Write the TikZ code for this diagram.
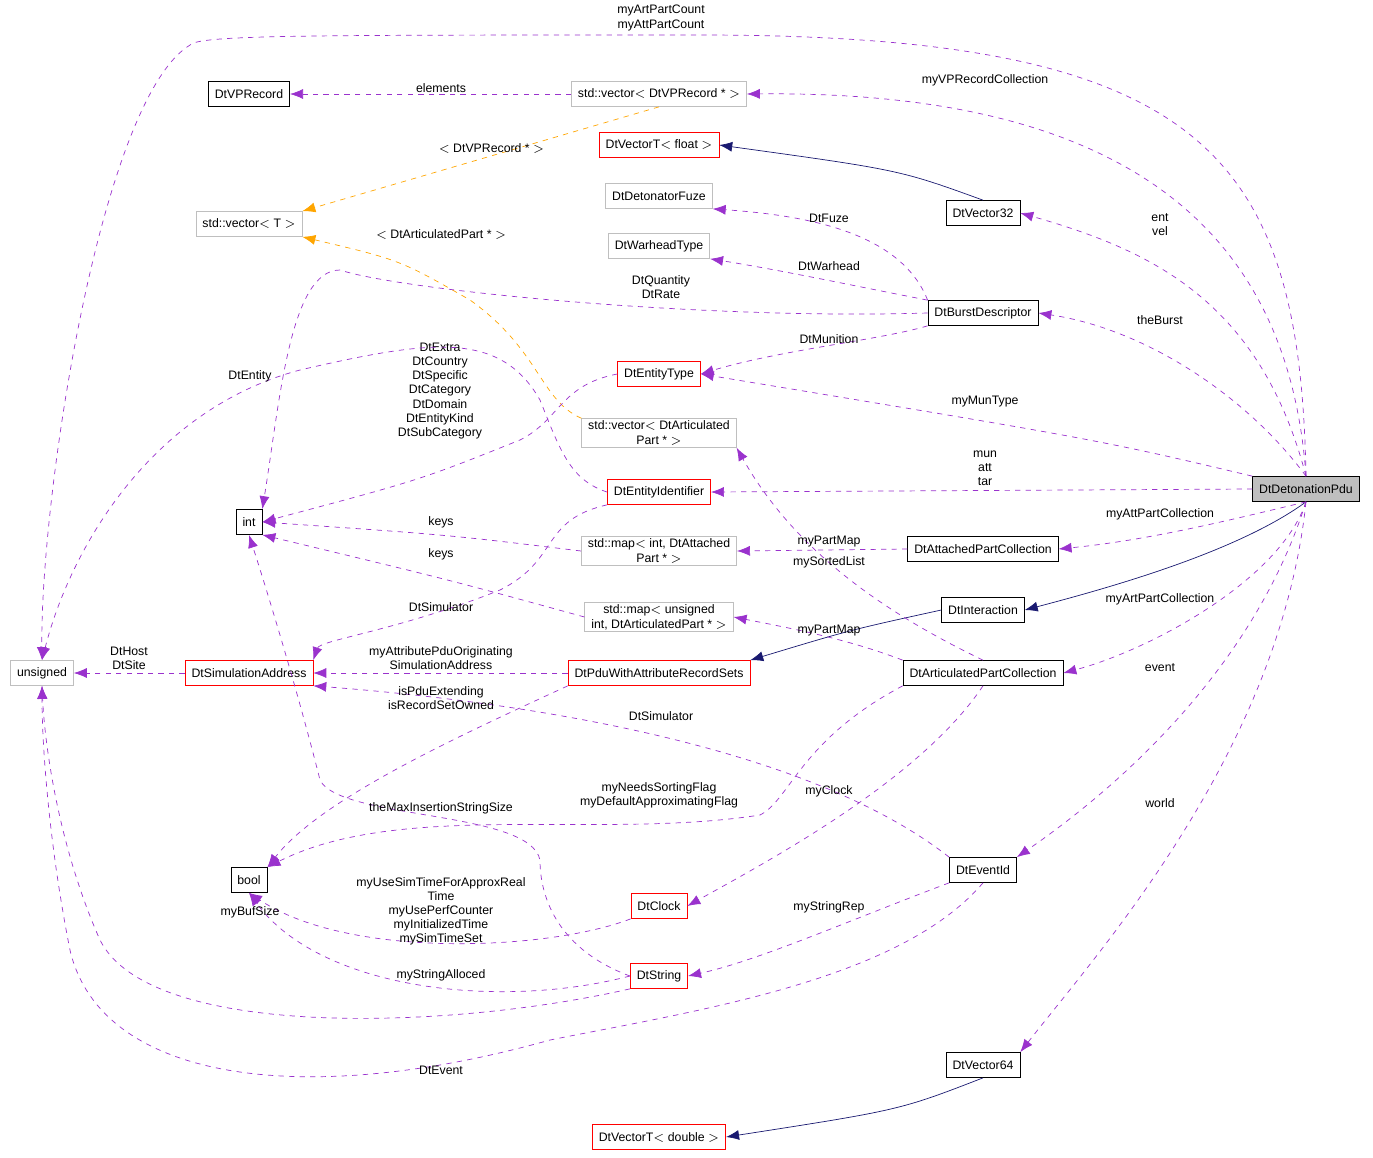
\documentclass[tikz,border=0pt]{standalone}
\usepackage{fontspec}
\setmainfont{Liberation Sans}
\usetikzlibrary{arrows.meta}
\definecolor{dxPurple}{RGB}{154,50,205}
\definecolor{dxOrange}{RGB}{255,165,0}
\definecolor{dxNavy}{RGB}{25,25,112}
\definecolor{dxGray}{RGB}{191,191,191}
\tikzset{
    base/.style={font=\fontsize{7}{8.5}\selectfont, align=center, inner xsep=0.13cm, inner ysep=0.04cm, minimum height=0.5cm},
    cls/.style={base, rectangle, draw=black, fill=white},
    ext/.style={base, rectangle, draw=dxGray, fill=white},
    part/.style={base, rectangle, draw=red, fill=white},
    focus/.style={base, rectangle, draw=black, fill=dxGray},
    use/.style={-{Latex[length=2.6mm,width=2mm]}, dashed, color=dxPurple},
    tmpl/.style={-{Latex[length=2.6mm,width=2mm]}, dashed, color=dxOrange},
    inherit/.style={-{Latex[length=2.6mm,width=2mm]}, color=dxNavy},
    lbl/.style={font=\fontsize{7}{8}\selectfont, align=center, text=black, inner sep=0pt}
}
\begin{document}
\begin{tikzpicture}[x=0.02cm, y=-0.02cm]
  \useasboundingbox (0,0) rectangle (1373,1157);
  % classes
  \node[focus] (pdu) at (1306,489) {DtDetonationPdu};
  \node[ext] (unsig) at (42,673) {unsigned};
  \node[cls] (int) at (249,522) {int};
  \node[cls] (bool) at (249,880) {bool};
  \node[cls] (vprec) at (249,94) {DtVPRecord};
  \node[ext] (vecvp) at (659,94) {std::vector$<$ DtVPRecord * $>$};
  \node[part] (vecf) at (659,145) {DtVectorT$<$ float $>$};
  \node[ext] (fuze) at (659,196) {DtDetonatorFuze};
  \node[ext] (warh) at (659,246) {DtWarheadType};
  \node[ext] (vect) at (249,224) {std::vector$<$ T $>$};
  \node[cls] (v32) at (983,213) {DtVector32};
  \node[cls] (burst) at (983,313) {DtBurstDescriptor};
  \node[part] (etype) at (659,374) {DtEntityType};
  \node[ext] (vecart) at (659,433) {std::vector$<$ DtArticulated\\Part * $>$};
  \node[part] (eid) at (659,492) {DtEntityIdentifier};
  \node[ext] (mapatt) at (659,551) {std::map$<$ int, DtAttached\\Part * $>$};
  \node[cls] (attcol) at (983,549) {DtAttachedPartCollection};
  \node[cls] (inter) at (983,610) {DtInteraction};
  \node[ext] (mapart) at (659,617) {std::map$<$ unsigned\\int, DtArticulatedPart * $>$};
  \node[part] (simaddr) at (249,673) {DtSimulationAddress};
  \node[part] (pduattr) at (659,673) {DtPduWithAttributeRecordSets};
  \node[cls] (artcol) at (983,673) {DtArticulatedPartCollection};
  \node[cls] (evid) at (983,870) {DtEventId};
  \node[part] (clock) at (659,906) {DtClock};
  \node[part] (str) at (659,976) {DtString};
  \node[cls] (v64) at (983,1065) {DtVector64};
  \node[part] (vecd) at (659,1137) {DtVectorT$<$ double $>$};

  % inheritance
  \draw[inherit] (v32.north) .. controls (900,170) .. (vecf.east);
  \draw[inherit] (pdu.south) .. controls (1240,550) and (1120,585) .. (inter.east);
  \draw[inherit] (inter.west) .. controls (850,630) .. (pduattr.north east);
  \draw[inherit] (v64.south) .. controls (900,1110) .. (vecd.east);

  % templates
  \draw[tmpl] (vecvp.south) -- node[lbl, pos=0.45, above, xshift=-4] {$<$ DtVPRecord * $>$} (vect.north east);
  \draw[tmpl] (vecart.north west) .. controls (540,400) and (540,350) .. (470,300) .. controls (400,260) .. (vect.south east);
  \path (441,235) node[lbl] {$<$ DtArticulatedPart * $>$};

  % members of DtDetonationPdu
  \draw[use] (pdu.north) .. controls (1300,150) and (1200,35) .. (700,35) .. controls (300,35) and (200,35) .. (190,45) .. controls (100,100) and (40,500) .. (unsig.north)
    node[lbl, at={(661,18)}] {myArtPartCount\\myAttPartCount};
  \draw[use] (pdu.north) .. controls (1290,250) and (1150,90) .. (vecvp.east)
    node[lbl, at={(985,80)}] {myVPRecordCollection};
  \draw[use] (pdu.north) .. controls (1260,300) and (1150,250) .. (v32.east)
    node[lbl, at={(1160,225)}] {ent\\vel};
  \draw[use] (pdu.north) .. controls (1250,400) and (1150,330) .. (burst.east)
    node[lbl, at={(1160,320)}] {theBurst};
  \draw[use] (pdu.north west) .. controls (1100,440) .. (etype.east)
    node[lbl, at={(985,402)}] {myMunType};
  \draw[use] (pdu.west) -- (eid.east)
    node[lbl, at={(985,468)}] {mun\\att\\tar};
  \draw[use] (pdu.south) .. controls (1230,520) and (1150,540) .. (attcol.east)
    node[lbl, at={(1160,514)}] {myAttPartCollection};
  \draw[use] (pdu.south) .. controls (1280,580) and (1150,650) .. (artcol.east)
    node[lbl, at={(1160,599)}] {myArtPartCollection};
  \draw[use] (pdu.south) .. controls (1250,680) and (1100,800) .. (evid.north east)
    node[lbl, at={(1160,668)}] {event};
  \draw[use] (pdu.south) .. controls (1280,750) and (1100,950) .. (v64.north east)
    node[lbl, at={(1160,803)}] {world};

  % other members
  \draw[use] (vecvp.west) -- (vprec.east)
    node[lbl, at={(441,88)}] {elements};
  \draw[use] (burst.north west) .. controls (900,230) and (800,215) .. (fuze.south east)
    node[lbl, at={(829,218)}] {DtFuze};
  \draw[use] (burst.north west) .. controls (850,285) and (780,270) .. (warh.south east)
    node[lbl, at={(829,266)}] {DtWarhead};
  \draw[use] (burst.west) .. controls (700,320) and (400,290) .. (340,270) .. controls (290,270) and (280,400) .. (int.north east)
    node[lbl, at={(661,287)}] {DtQuantity\\DtRate};
  \draw[use] (burst.south west) .. controls (880,340) and (780,350) .. (etype.east)
    node[lbl, at={(829,339)}] {DtMunition};
  \draw[use] (etype.west) .. controls (560,385) and (560,420) .. (520,440) .. controls (420,480) .. (int.east)
    node[lbl, at={(440,391)}] {DtExtra\\DtCountry\\DtSpecific\\DtCategory\\DtDomain\\DtEntityKind\\DtSubCategory};
  \draw[use] (eid.west) .. controls (570,480) and (560,450) .. (540,400) .. controls (500,330) and (430,340) .. (300,370) .. controls (150,410) and (70,550) .. (unsig.north)
    node[lbl, at={(250,376)}] {DtEntity};
  \draw[use] (eid.south west) .. controls (540,520) and (560,560) .. (500,590) .. controls (400,630) and (320,640) .. (simaddr.north east)
    node[lbl, at={(441,607)}] {DtSimulator};
  \draw[use] (artcol.north) .. controls (900,620) and (800,560) .. (vecart.south east)
    node[lbl, at={(829,562)}] {mySortedList};
  \draw[use] (mapatt.west) .. controls (450,535) .. (int.east)
    node[lbl, at={(441,522)}] {keys};
  \draw[use] (mapart.west) .. controls (450,580) .. (int.south east)
    node[lbl, at={(441,554)}] {keys};
  \draw[use] (attcol.west) -- (mapatt.east)
    node[lbl, at={(829,542)}] {myPartMap};
  \draw[use] (artcol.north west) .. controls (850,640) and (800,630) .. (mapart.east)
    node[lbl, at={(829,631)}] {myPartMap};
  \draw[use] (simaddr.west) -- (unsig.east)
    node[lbl, at={(129,658)}] {DtHost\\DtSite};
  \draw[use] (pduattr.west) -- (simaddr.east)
    node[lbl, at={(441,658)}] {myAttributePduOriginating\\SimulationAddress};
  \draw[use] (evid.north west) .. controls (800,740) and (500,700) .. (simaddr.south east)
    node[lbl, at={(661,716)}] {DtSimulator};
  \draw[use] (pduattr.south west) .. controls (450,740) and (320,800) .. (bool.north east)
    node[lbl, at={(441,698)}] {isPduExtending\\isRecordSetOwned};
  \draw[use] (artcol.south west) .. controls (800,740) and (790,800) .. (760,815) .. controls (600,840) and (400,800) .. (bool.north east)
    node[lbl, at={(659,795)}] {myNeedsSortingFlag\\myDefaultApproximatingFlag};
  \draw[use] (artcol.south) .. controls (920,780) and (770,860) .. (clock.east)
    node[lbl, at={(829,791)}] {myClock};
  \draw[use] (str.west) .. controls (560,950) and (540,900) .. (540,860) .. controls (530,810) and (340,820) .. (320,780) .. controls (300,700) and (270,600) .. (int.south)
    node[lbl, at={(441,808)}] {theMaxInsertionStringSize};
  \draw[use] (clock.south west) .. controls (550,950) and (350,960) .. (bool.south)
    node[lbl, at={(441,911)}] {myUseSimTimeForApproxReal\\Time\\myUsePerfCounter\\myInitializedTime\\mySimTimeSet};
  \draw[use] (evid.south west) .. controls (850,920) and (760,960) .. (str.east)
    node[lbl, at={(829,907)}] {myStringRep};
  \draw[use] (str.west) .. controls (500,1010) and (320,990) .. (bool.south)
    node[lbl, at={(441,975)}] {myStringAlloced};
  \draw[use] (str.south west) .. controls (450,1030) and (150,1040) .. (100,940) .. controls (60,850) and (45,750) .. (unsig.south)
    node[lbl, at={(250,912)}] {myBufSize};
  \draw[use] (evid.south) .. controls (900,980) and (700,1010) .. (550,1040) .. controls (300,1110) and (100,1080) .. (70,950) .. controls (50,850) and (42,750) .. (unsig.south)
    node[lbl, at={(441,1070)}] {DtEvent};
\end{tikzpicture}
\end{document}
